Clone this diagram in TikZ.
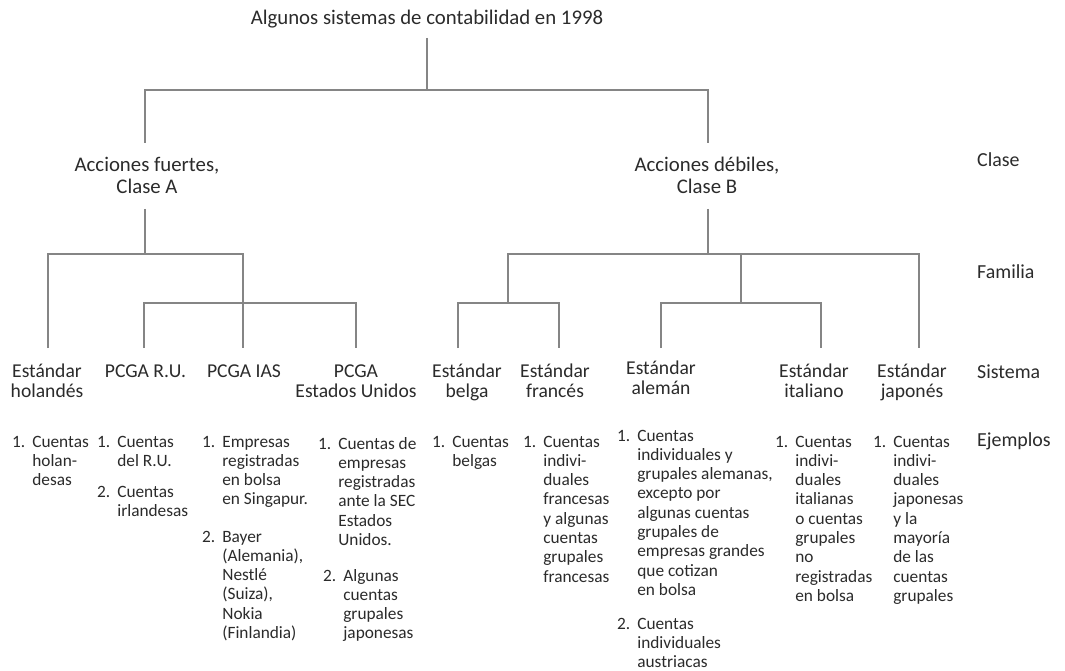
\documentclass[tikz,border=0pt]{standalone}
\usepackage{fontspec}
\setmainfont{Carlito}
\definecolor{txt}{HTML}{2B2B2B}
\definecolor{lin}{HTML}{858585}
\newcommand{\hdtext}[1]{\begin{tabular}[t]{@{}c@{}}#1\end{tabular}}
\newcommand{\exitem}[2]{#1\hspace{7pt}\begin{tabular}[t]{@{}l@{}}#2\end{tabular}}
\begin{document}
\begin{tikzpicture}[x=1pt,y=-1pt,
  hd/.style={inner sep=0pt, anchor=base, text=txt, font=\fontsize{19.6}{20.5}\selectfont},
  big/.style={hd, font=\fontsize{20.8}{21}\selectfont},
  lab/.style={inner sep=0pt, anchor=base west, text=txt, font=\fontsize{19.9}{20.5}\selectfont},
  ex/.style={inner sep=0pt, anchor=base west, text=txt, font=\fontsize{17.3}{19.3}\selectfont},
  ln/.style={draw=lin, line width=1.5pt}]
\fill[white] (0,0) rectangle (1065,671);
\useasboundingbox (0,0) rectangle (1065,671);

% header texts
\node[big] (title) at (427,25) {Algunos sistemas de contabilidad en 1998};
\node[big] (clA) at (147,172) {\hdtext{Acciones fuertes,\\ Clase A}};
\node[big] (clB) at (707,172) {\hdtext{Acciones débiles,\\ Clase B}};
\node[hd] (hol) at (47,377) {\hdtext{Estándar\\ holandés}};
\node[hd] (ru) at (145.5,377) {\hdtext{PCGA R.U.}};
\node[hd] (ias) at (244,377) {\hdtext{PCGA IAS}};
\node[hd] (us) at (356,377) {\hdtext{PCGA\\ Estados Unidos}};
\node[hd] (bel) at (467,377) {\hdtext{Estándar\\ belga}};
\node[hd] (fra) at (555,377) {\hdtext{Estándar\\ francés}};
\node[hd] (ale) at (661,374) {\hdtext{Estándar\\ alemán}};
\node[hd] (ita) at (814,377) {\hdtext{Estándar\\ italiano}};
\node[hd] (jap) at (912,377) {\hdtext{Estándar\\ japonés}};

% row labels
\node[lab] (lclase) at (977,167) {Clase};
\node[lab] (lfam) at (977,278) {Familia};
\node[lab] (lsis) at (977,378) {Sistema};
\node[lab] (lej) at (977,446) {Ejemplos};

% connection points
\coordinate (rootO) at (427,38);
\coordinate (rootJ) at (427,90);
\coordinate (AI) at (145,143);
\coordinate (BI) at (708,143);
\coordinate (AO) at (145,209);
\coordinate (BO) at (708,209);
\coordinate (AJ) at (145,254);
\coordinate (BJ) at (708,254);
\coordinate (holI) at (48,348);
\coordinate (iasI) at (243,348);
\coordinate (pJ) at (243,303);
\coordinate (ruI) at (144,348);
\coordinate (usI) at (356,348);
\coordinate (bfJ) at (508,303);
\coordinate (belI) at (458,348);
\coordinate (fraI) at (559,348);
\coordinate (aiJ) at (741,303);
\coordinate (aleI) at (661,348);
\coordinate (itaI) at (821,348);
\coordinate (japI) at (919,348);

% connectors
\draw[ln] (rootO) -- (rootJ);
\draw[ln] (AI) |- (rootJ) -| (BI);
\draw[ln] (AO) -- (AJ);
\draw[ln] (BO) -- (BJ);
\draw[ln] (holI) |- (AJ) -| (iasI);
\draw[ln] (ruI) |- (pJ) -| (usI);
\draw[ln] (bfJ) |- (BJ) -| (japI);
\draw[ln] (aiJ) -- (aiJ |- BJ);
\draw[ln] (belI) |- (bfJ) -| (fraI);
\draw[ln] (aleI) |- (aiJ) -| (itaI);

% examples
\node[ex] (e1) at (12,447) {\exitem{1.}{Cuentas\\ holan-\\ desas}};
\node[ex] (e2a) at (97,447) {\exitem{1.}{Cuentas\\ del R.U.}};
\node[ex] (e2b) at (97,497) {\exitem{2.}{Cuentas\\ irlandesas}};
\node[ex] (e3a) at (202,447) {\exitem{1.}{Empresas\\ registradas\\ en bolsa\\ en Singapur.}};
\node[ex] (e3b) at (202,542) {\exitem{2.}{Bayer\\ (Alemania),\\ Nestlé\\ (Suiza),\\ Nokia\\ (Finlandia)}};
\node[ex] (e4a) at (318,449) {\exitem{1.}{Cuentas de\\ empresas\\ registradas\\ ante la SEC\\ Estados\\ Unidos.}};
\node[ex] (e4b) at (323,581) {\exitem{2.}{Algunas\\ cuentas\\ grupales\\ japonesas}};
\node[ex] (e5) at (432,447) {\exitem{1.}{Cuentas\\ belgas}};
\node[ex] (e6) at (523,447) {\exitem{1.}{Cuentas\\ indivi-\\ duales\\ francesas\\ y algunas\\ cuentas\\ grupales\\ francesas}};
\node[ex] (e7a) at (617,441) {\exitem{1.}{Cuentas\\ individuales y\\ grupales alemanas,\\ excepto por\\ algunas cuentas\\ grupales de\\ empresas grandes\\ que cotizan\\ en bolsa}};
\node[ex] (e7b) at (617,629) {\exitem{2.}{Cuentas\\ individuales\\ austriacas}};
\node[ex] (e8) at (775,447) {\exitem{1.}{Cuentas\\ indivi-\\ duales\\ italianas\\ o cuentas\\ grupales\\ no\\ registradas\\ en bolsa}};
\node[ex] (e9) at (873,447) {\exitem{1.}{Cuentas\\ indivi-\\ duales\\ japonesas\\ y la\\ mayoría\\ de las\\ cuentas\\ grupales}};
\end{tikzpicture}
\end{document}
